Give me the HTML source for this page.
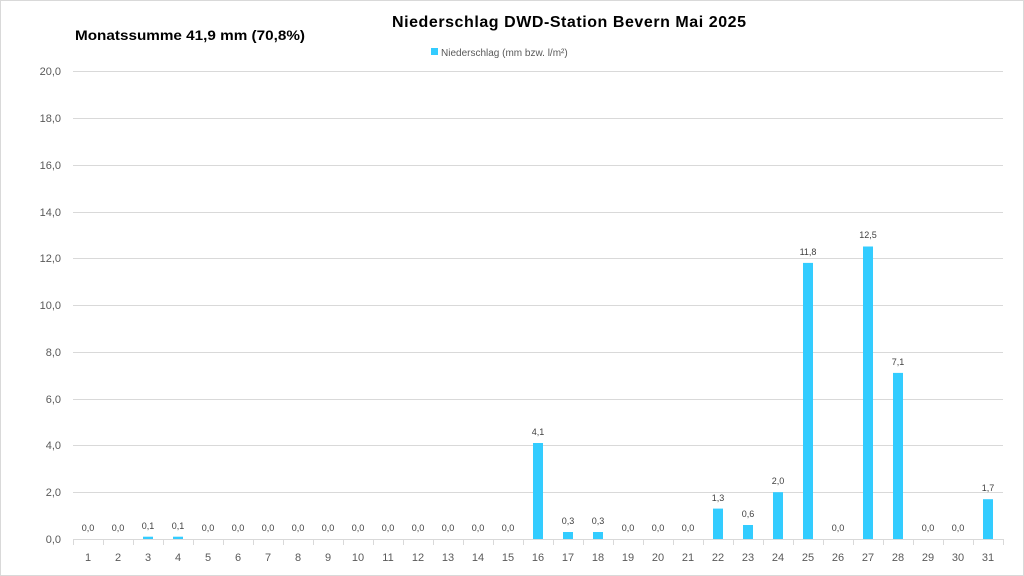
<!DOCTYPE html>
<html><head><meta charset="utf-8"><style>
html,body{margin:0;padding:0;background:#fff;}
svg{display:block;font-family:"Liberation Sans",sans-serif;}
</style></head><body>
<svg width="1024" height="576" viewBox="0 0 1024 576" xmlns="http://www.w3.org/2000/svg">
<rect x="0.5" y="0.5" width="1023" height="575" fill="#fff" stroke="#d9d9d9"/>
<text x="392" y="27" font-size="16" font-weight="bold" fill="#000" textLength="354" lengthAdjust="spacing">Niederschlag  DWD-Station  Bevern Mai 2025</text>
<text x="75" y="40" font-size="14" font-weight="bold" fill="#000" textLength="230" lengthAdjust="spacingAndGlyphs">Monatssumme 41,9 mm (70,8%)</text>
<rect x="431" y="48" width="7" height="7" fill="#33ccff"/>
<text x="441" y="56" font-size="10" fill="#595959">Niederschlag (mm bzw. l/m²)</text>
<g stroke="#d9d9d9" stroke-width="1">
<line x1="73" y1="71.5" x2="1003" y2="71.5"/>
<line x1="73" y1="118.5" x2="1003" y2="118.5"/>
<line x1="73" y1="165.5" x2="1003" y2="165.5"/>
<line x1="73" y1="212.5" x2="1003" y2="212.5"/>
<line x1="73" y1="258.5" x2="1003" y2="258.5"/>
<line x1="73" y1="305.5" x2="1003" y2="305.5"/>
<line x1="73" y1="352.5" x2="1003" y2="352.5"/>
<line x1="73" y1="399.5" x2="1003" y2="399.5"/>
<line x1="73" y1="445.5" x2="1003" y2="445.5"/>
<line x1="73" y1="492.5" x2="1003" y2="492.5"/>
<line x1="73" y1="539.5" x2="1003" y2="539.5"/>
</g>
<g stroke="#d9d9d9">
<line x1="73.5" y1="539" x2="73.5" y2="545"/><line x1="103.5" y1="539" x2="103.5" y2="545"/><line x1="133.5" y1="539" x2="133.5" y2="545"/><line x1="163.5" y1="539" x2="163.5" y2="545"/><line x1="193.5" y1="539" x2="193.5" y2="545"/><line x1="223.5" y1="539" x2="223.5" y2="545"/><line x1="253.5" y1="539" x2="253.5" y2="545"/><line x1="283.5" y1="539" x2="283.5" y2="545"/><line x1="313.5" y1="539" x2="313.5" y2="545"/><line x1="343.5" y1="539" x2="343.5" y2="545"/><line x1="373.5" y1="539" x2="373.5" y2="545"/><line x1="403.5" y1="539" x2="403.5" y2="545"/><line x1="433.5" y1="539" x2="433.5" y2="545"/><line x1="463.5" y1="539" x2="463.5" y2="545"/><line x1="493.5" y1="539" x2="493.5" y2="545"/><line x1="523.5" y1="539" x2="523.5" y2="545"/><line x1="553.5" y1="539" x2="553.5" y2="545"/><line x1="583.5" y1="539" x2="583.5" y2="545"/><line x1="613.5" y1="539" x2="613.5" y2="545"/><line x1="643.5" y1="539" x2="643.5" y2="545"/><line x1="673.5" y1="539" x2="673.5" y2="545"/><line x1="703.5" y1="539" x2="703.5" y2="545"/><line x1="733.5" y1="539" x2="733.5" y2="545"/><line x1="763.5" y1="539" x2="763.5" y2="545"/><line x1="793.5" y1="539" x2="793.5" y2="545"/><line x1="823.5" y1="539" x2="823.5" y2="545"/><line x1="853.5" y1="539" x2="853.5" y2="545"/><line x1="883.5" y1="539" x2="883.5" y2="545"/><line x1="913.5" y1="539" x2="913.5" y2="545"/><line x1="943.5" y1="539" x2="943.5" y2="545"/><line x1="973.5" y1="539" x2="973.5" y2="545"/><line x1="1003.5" y1="539" x2="1003.5" y2="545"/>
</g>
<g font-size="11" fill="#595959" text-anchor="end">
<text x="61" y="75">20,0</text><text x="61" y="122">18,0</text><text x="61" y="169">16,0</text><text x="61" y="216">14,0</text><text x="61" y="262">12,0</text><text x="61" y="309">10,0</text><text x="61" y="356">8,0</text><text x="61" y="403">6,0</text><text x="61" y="449">4,0</text><text x="61" y="496">2,0</text><text x="61" y="543">0,0</text>
</g>
<g font-size="11" fill="#595959" text-anchor="middle">
<text x="88" y="561">1</text><text x="118" y="561">2</text><text x="148" y="561">3</text><text x="178" y="561">4</text><text x="208" y="561">5</text><text x="238" y="561">6</text><text x="268" y="561">7</text><text x="298" y="561">8</text><text x="328" y="561">9</text><text x="358" y="561">10</text><text x="388" y="561">11</text><text x="418" y="561">12</text><text x="448" y="561">13</text><text x="478" y="561">14</text><text x="508" y="561">15</text><text x="538" y="561">16</text><text x="568" y="561">17</text><text x="598" y="561">18</text><text x="628" y="561">19</text><text x="658" y="561">20</text><text x="688" y="561">21</text><text x="718" y="561">22</text><text x="748" y="561">23</text><text x="778" y="561">24</text><text x="808" y="561">25</text><text x="838" y="561">26</text><text x="868" y="561">27</text><text x="898" y="561">28</text><text x="928" y="561">29</text><text x="958" y="561">30</text><text x="988" y="561">31</text>
</g>
<g fill="#33ccff">
<rect x="143" y="536.7" width="10" height="2.3"/>
<rect x="173" y="536.7" width="10" height="2.3"/>
<rect x="533" y="443" width="10" height="96"/>
<rect x="563" y="532" width="10" height="7"/>
<rect x="593" y="532" width="10" height="7"/>
<rect x="713" y="508.6" width="10" height="30.4"/>
<rect x="743" y="525" width="10" height="14"/>
<rect x="773" y="492.2" width="10" height="46.8"/>
<rect x="803" y="262.9" width="10" height="276.1"/>
<rect x="863" y="246.5" width="10" height="292.5"/>
<rect x="893" y="372.9" width="10" height="166.1"/>
<rect x="983" y="499.2" width="10" height="39.8"/>
</g>
<g font-size="9" fill="#404040" text-anchor="middle">
<text x="88" y="531">0,0</text><text x="118" y="531">0,0</text><text x="148" y="529">0,1</text><text x="178" y="529">0,1</text><text x="208" y="531">0,0</text><text x="238" y="531">0,0</text><text x="268" y="531">0,0</text><text x="298" y="531">0,0</text><text x="328" y="531">0,0</text><text x="358" y="531">0,0</text><text x="388" y="531">0,0</text><text x="418" y="531">0,0</text><text x="448" y="531">0,0</text><text x="478" y="531">0,0</text><text x="508" y="531">0,0</text>
<text x="538" y="435">4,1</text><text x="568" y="524">0,3</text><text x="598" y="524">0,3</text><text x="628" y="531">0,0</text><text x="658" y="531">0,0</text><text x="688" y="531">0,0</text>
<text x="718" y="501">1,3</text><text x="748" y="517">0,6</text><text x="778" y="484">2,0</text><text x="808" y="255">11,8</text><text x="838" y="531">0,0</text><text x="868" y="238">12,5</text><text x="898" y="365">7,1</text><text x="928" y="531">0,0</text><text x="958" y="531">0,0</text><text x="988" y="491">1,7</text>
</g>
</svg>
</body></html>
